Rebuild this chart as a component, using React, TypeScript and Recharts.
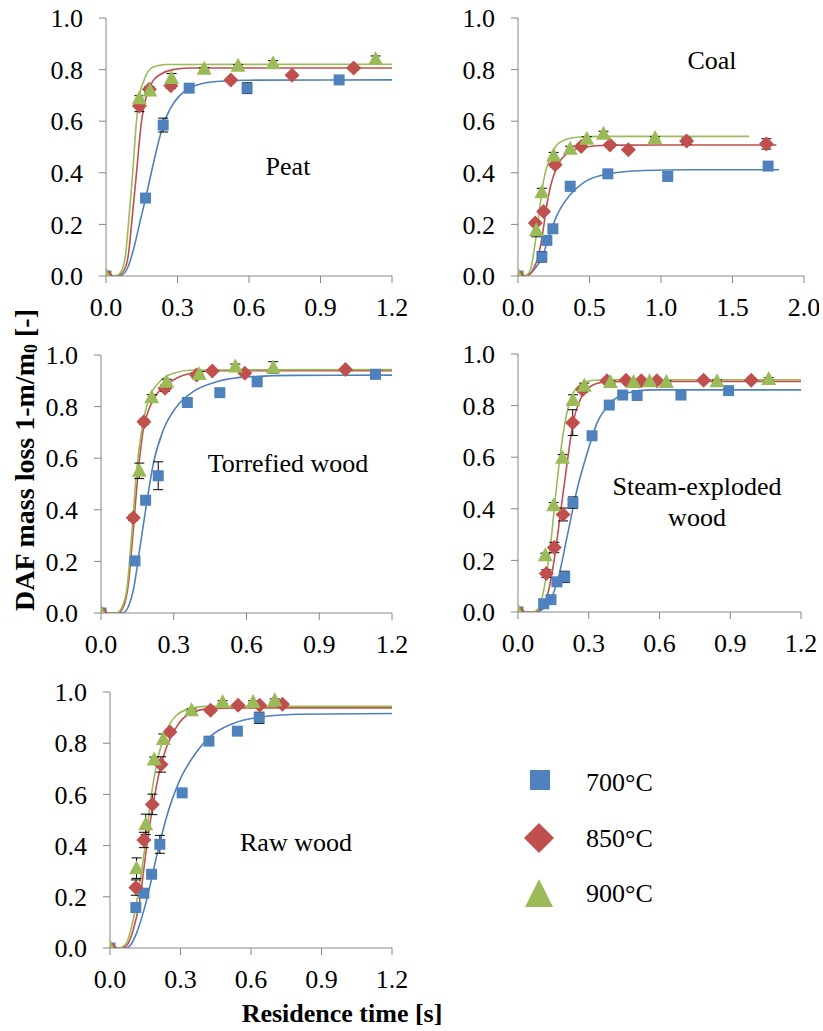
import React from "react";
import { ComposedChart, Line, Scatter, XAxis, YAxis, ErrorBar } from "recharts";

// tick values
const xTicks12 = [0, 0.3, 0.6, 0.9, 1.2];
const xTicks20 = [0, 0.5, 1.0, 1.5, 2.0];
const yTicks = [0, 0.2, 0.4, 0.6, 0.8, 1.0];

const temps = ["700°C", "850°C", "900°C"];

// measured points: [time, mass loss, error]
const peat700 = [[0, 0, 0], [0.166, 0.302, 0.01], [0.24, 0.585, 0.027], [0.349, 0.728, 0.01], [0.592, 0.728, 0.021], [0.978, 0.76, 0.005]];
const peat850 = [[0, 0, 0], [0.14, 0.659, 0.022], [0.182, 0.724, 0.01], [0.272, 0.737, 0.01], [0.524, 0.76, 0.005], [0.781, 0.778, 0.008], [1.039, 0.806, 0.008]];
const peat900 = [[0, 0, 0], [0.14, 0.689, 0.01], [0.184, 0.719, 0.01], [0.275, 0.767, 0.018], [0.412, 0.803, 0.005], [0.554, 0.815, 0.005], [0.701, 0.825, 0.01], [1.131, 0.841, 0.012]];

const coal700 = [[0, 0, 0], [0.167, 0.074, 0.02], [0.202, 0.138, 0.012], [0.244, 0.183, 0.008], [0.365, 0.348, 0.018], [0.628, 0.396, 0.008], [1.047, 0.386, 0.016], [1.749, 0.426, 0.012]];
const coal850 = [[0, 0, 0], [0.121, 0.205, 0.008], [0.179, 0.25, 0.008], [0.26, 0.431, 0.008], [0.442, 0.502, 0.008], [0.644, 0.508, 0.008], [0.772, 0.489, 0.005], [1.179, 0.523, 0.012], [1.737, 0.512, 0.02]];
const coal900 = [[0, 0, 0], [0.128, 0.177, 0.025], [0.167, 0.325, 0.015], [0.249, 0.467, 0.012], [0.365, 0.493, 0.01], [0.481, 0.532, 0.008], [0.598, 0.551, 0.01], [0.958, 0.535, 0.005]];

const torr700 = [[0, 0, 0], [0.14, 0.202, 0.008], [0.184, 0.437, 0.008], [0.236, 0.532, 0.054], [0.356, 0.816, 0.006], [0.49, 0.854, 0.008], [0.644, 0.896, 0.006], [1.132, 0.925, 0.006]];
const torr850 = [[0, 0, 0], [0.133, 0.369, 0.01], [0.177, 0.741, 0.01], [0.264, 0.871, 0.012], [0.394, 0.922, 0.01], [0.459, 0.938, 0.005], [0.593, 0.929, 0.005], [1.008, 0.944, 0.005]];
const torr900 = [[0, 0, 0], [0.158, 0.551, 0.03], [0.209, 0.836, 0.01], [0.271, 0.896, 0.01], [0.405, 0.926, 0.01], [0.554, 0.955, 0.01], [0.71, 0.952, 0.022]];

const steam700 = [[0, 0, 0], [0.109, 0.032, 0.008], [0.14, 0.048, 0.008], [0.165, 0.117, 0.01], [0.198, 0.136, 0.022], [0.233, 0.424, 0.022], [0.314, 0.683, 0.008], [0.387, 0.802, 0.008], [0.444, 0.841, 0.008], [0.505, 0.839, 0.008], [0.691, 0.841, 0.008], [0.893, 0.858, 0.008]];
const steam850 = [[0, 0, 0], [0.12, 0.149, 0.015], [0.154, 0.25, 0.02], [0.191, 0.378, 0.025], [0.232, 0.734, 0.05], [0.274, 0.861, 0.01], [0.377, 0.896, 0.005], [0.458, 0.898, 0.005], [0.523, 0.896, 0.005], [0.589, 0.896, 0.005], [0.787, 0.898, 0.005], [0.989, 0.898, 0.005]];
const steam900 = [[0, 0, 0], [0.116, 0.22, 0.008], [0.151, 0.414, 0.01], [0.189, 0.598, 0.012], [0.233, 0.822, 0.02], [0.281, 0.877, 0.01], [0.392, 0.891, 0.005], [0.49, 0.891, 0.005], [0.558, 0.894, 0.005], [0.629, 0.891, 0.005], [0.844, 0.894, 0.005], [1.063, 0.903, 0.005]];

const raw700 = [[0, 0, 0], [0.11, 0.158, 0.008], [0.144, 0.214, 0.008], [0.177, 0.288, 0.01], [0.212, 0.405, 0.035], [0.307, 0.606, 0.008], [0.421, 0.808, 0.008], [0.542, 0.847, 0.008], [0.635, 0.899, 0.022]];
const raw850 = [[0, 0, 0], [0.11, 0.236, 0.03], [0.144, 0.422, 0.03], [0.18, 0.561, 0.04], [0.217, 0.717, 0.03], [0.255, 0.844, 0.01], [0.428, 0.929, 0.008], [0.545, 0.948, 0.005], [0.637, 0.948, 0.005], [0.734, 0.952, 0.005]];
const raw900 = [[0, 0, 0], [0.113, 0.312, 0.04], [0.152, 0.483, 0.04], [0.188, 0.736, 0.01], [0.227, 0.816, 0.02], [0.347, 0.929, 0.005], [0.479, 0.961, 0.005], [0.609, 0.961, 0.005], [0.701, 0.968, 0.005]];

// fitted model curves: [time, mass loss]
const peatFit700 = [[0, 0], [0.06, 0.002], [0.09, 0.03], [0.12, 0.12], [0.145, 0.22], [0.166, 0.3], [0.19, 0.4], [0.215, 0.5], [0.24, 0.585], [0.27, 0.65], [0.31, 0.7], [0.35, 0.728], [0.4, 0.745], [0.48, 0.755], [0.6, 0.759], [1.2, 0.76]];
const peatFit850 = [[0, 0], [0.05, 0.002], [0.08, 0.03], [0.095, 0.09], [0.107, 0.2], [0.128, 0.4], [0.149, 0.6], [0.17, 0.7], [0.2, 0.76], [0.226, 0.78], [0.28, 0.8], [0.35, 0.806], [1.2, 0.806]];
const peatFit900 = [[0, 0], [0.045, 0.002], [0.07, 0.03], [0.083, 0.09], [0.094, 0.2], [0.112, 0.4], [0.128, 0.6], [0.145, 0.72], [0.156, 0.75], [0.175, 0.79], [0.198, 0.81], [0.25, 0.82], [1.2, 0.821]];

const coalFit700 = [[0, 0], [0.05, 0.001], [0.086, 0.009], [0.12, 0.03], [0.167, 0.07], [0.214, 0.15], [0.272, 0.235], [0.365, 0.315], [0.458, 0.362], [0.628, 0.396], [0.877, 0.409], [1.2, 0.412], [1.826, 0.412]];
const coalFit850 = [[0, 0], [0.063, 0.001], [0.1, 0.02], [0.133, 0.061], [0.155, 0.11], [0.179, 0.19], [0.2, 0.27], [0.226, 0.345], [0.272, 0.422], [0.342, 0.474], [0.458, 0.499], [0.644, 0.507], [1.0, 0.508], [1.807, 0.508]];
const coalFit900 = [[0, 0], [0.051, 0.001], [0.09, 0.03], [0.109, 0.086], [0.144, 0.228], [0.179, 0.37], [0.226, 0.461], [0.295, 0.519], [0.412, 0.538], [0.6, 0.541], [1.616, 0.541]];

const torrFit700 = [[0, 0], [0.092, 0.001], [0.115, 0.03], [0.133, 0.088], [0.161, 0.256], [0.188, 0.424], [0.216, 0.58], [0.257, 0.709], [0.312, 0.8], [0.38, 0.858], [0.477, 0.896], [0.614, 0.916], [0.8, 0.921], [1.2, 0.922]];
const torrFit850 = [[0, 0], [0.071, 0.001], [0.095, 0.03], [0.113, 0.114], [0.133, 0.321], [0.154, 0.554], [0.174, 0.709], [0.202, 0.8], [0.243, 0.864], [0.298, 0.903], [0.38, 0.931], [0.477, 0.939], [1.2, 0.939]];
const torrFit900 = [[0, 0], [0.065, 0.001], [0.09, 0.03], [0.106, 0.088], [0.126, 0.295], [0.147, 0.554], [0.168, 0.709], [0.195, 0.825], [0.236, 0.89], [0.298, 0.929], [0.38, 0.942], [1.2, 0.944]];

const steamFit700 = [[0, 0], [0.081, 0.001], [0.11, 0.015], [0.137, 0.045], [0.172, 0.136], [0.208, 0.291], [0.25, 0.473], [0.293, 0.615], [0.335, 0.732], [0.392, 0.81], [0.462, 0.849], [0.561, 0.861], [1.2, 0.861]];
const steamFit850 = [[0, 0], [0.073, 0.001], [0.1, 0.015], [0.123, 0.058], [0.151, 0.188], [0.18, 0.382], [0.208, 0.576], [0.236, 0.745], [0.264, 0.823], [0.307, 0.874], [0.363, 0.891], [0.45, 0.894], [1.2, 0.894]];
const steamFit900 = [[0, 0], [0.066, 0.001], [0.09, 0.02], [0.109, 0.084], [0.137, 0.253], [0.165, 0.499], [0.194, 0.706], [0.222, 0.823], [0.264, 0.881], [0.321, 0.898], [0.4, 0.9], [1.2, 0.9]];

const rawFit700 = [[0, 0], [0.071, 0.001], [0.09, 0.015], [0.113, 0.058], [0.156, 0.188], [0.198, 0.357], [0.241, 0.513], [0.297, 0.656], [0.354, 0.747], [0.425, 0.825], [0.524, 0.877], [0.666, 0.905], [0.807, 0.913], [1.2, 0.916]];
const rawFit850 = [[0, 0], [0.05, 0.001], [0.075, 0.015], [0.099, 0.071], [0.127, 0.188], [0.156, 0.396], [0.184, 0.565], [0.212, 0.695], [0.241, 0.786], [0.283, 0.864], [0.34, 0.916], [0.425, 0.935], [0.55, 0.938], [1.2, 0.938]];
const rawFit900 = [[0, 0], [0.042, 0.001], [0.07, 0.02], [0.092, 0.084], [0.12, 0.214], [0.149, 0.396], [0.177, 0.604], [0.205, 0.747], [0.241, 0.851], [0.283, 0.909], [0.34, 0.935], [0.411, 0.944], [1.2, 0.944]];

const BLUE = "#4F81BD";
const RED = "#C0504D";
const GREEN = "#9BBB59";
const AXIS = "#868686";
const FONT = "Liberation Serif";

const toPts = (arr: number[][]) => arr.map(([x, y, e]) => ({ x, y, e }));
const toFit = (arr: number[][]) => arr.map(([x, y]) => ({ x, y }));
const fmt = (v: number) => v.toFixed(1);

const squareShape = (p: any) => <rect x={p.cx - 5.5} y={p.cy - 5.5} width={11} height={11} fill={BLUE} />;
const diamondShape = (p: any) => (
  <polygon points={`${p.cx},${p.cy - 7.5} ${p.cx + 7.5},${p.cy} ${p.cx},${p.cy + 7.5} ${p.cx - 7.5},${p.cy}`} fill={RED} />
);
const triangleShape = (p: any) => (
  <polygon points={`${p.cx},${p.cy - 8} ${p.cx + 7.5},${p.cy + 6} ${p.cx - 7.5},${p.cy + 6}`} fill={GREEN} />
);

type PanelProps = {
  left: number;
  top: number;
  plotW: number;
  plotH: number;
  xMax: number;
  xTicks: number[];
  pts: number[][][];
  fits: number[][][];
};

const colors = [BLUE, RED, GREEN];
const shapes = [squareShape, diamondShape, triangleShape];

const Panel = ({ left, top, plotW, plotH, xMax, xTicks, pts, fits }: PanelProps) => {
  const yW = 60;
  const mTop = 15;
  const xH = 50;
  return (
    <div style={{ position: "absolute", left: left - yW, top: top - mTop }}>
      <ComposedChart
        width={yW + plotW + 15}
        height={mTop + plotH + xH}
        margin={{ top: mTop, right: 15, bottom: 0, left: 0 }}
        style={{ overflow: "visible", fontFamily: FONT }}
      >
        <XAxis
          type="number"
          dataKey="x"
          domain={[0, xMax]}
          ticks={xTicks}
          interval={0}
          tickFormatter={fmt}
          height={xH}
          stroke={AXIS}
          tickSize={7}
          tickMargin={15}
          tick={{ fill: "#000", fontSize: 26, fontFamily: FONT }}
          allowDataOverflow
        />
        <YAxis
          type="number"
          dataKey="y"
          domain={[0, 1]}
          ticks={yTicks}
          interval={0}
          tickFormatter={fmt}
          width={yW}
          stroke={AXIS}
          tickSize={7}
          tickMargin={16}
          tick={{ fill: "#000", fontSize: 26, fontFamily: FONT }}
          allowDataOverflow
        />
        {fits.map((f, i) => (
          <Line
            key={"f" + i}
            data={toFit(f)}
            dataKey="y"
            type="monotone"
            stroke={colors[i]}
            strokeWidth={1.6}
            dot={false}
            activeDot={false}
            isAnimationActive={false}
          />
        ))}
        {pts.map((p, i) => (
          <Scatter key={"p" + i} data={toPts(p)} dataKey="y" shape={shapes[i]} isAnimationActive={false}>
            <ErrorBar dataKey="e" direction="y" width={5} stroke="#000" strokeWidth={1} />
          </Scatter>
        ))}
      </ComposedChart>
    </div>
  );
};

export default function App() {
  return (
    <div style={{ position: "absolute", left: 0, top: 0, width: 823, height: 1031, background: "#fff", fontFamily: FONT }}>
      <Panel left={106} top={18} plotW={286} plotH={258} xMax={1.2} xTicks={xTicks12} pts={[peat700, peat850, peat900]} fits={[peatFit700, peatFit850, peatFit900]} />
      <Panel left={518} top={18} plotW={286} plotH={258} xMax={2} xTicks={xTicks20} pts={[coal700, coal850, coal900]} fits={[coalFit700, coalFit850, coalFit900]} />
      <Panel left={101} top={355} plotW={291} plotH={258} xMax={1.2} xTicks={xTicks12} pts={[torr700, torr850, torr900]} fits={[torrFit700, torrFit850, torrFit900]} />
      <Panel left={518} top={354} plotW={283} plotH={258} xMax={1.2} xTicks={xTicks12} pts={[steam700, steam850, steam900]} fits={[steamFit700, steamFit850, steamFit900]} />
      <Panel left={110} top={692} plotW={282} plotH={256} xMax={1.2} xTicks={xTicks12} pts={[raw700, raw850, raw900]} fits={[rawFit700, rawFit850, rawFit900]} />

      <svg width={823} height={1031} fontFamily={FONT} style={{ position: "absolute", left: 0, top: 0, pointerEvents: "none" }}>
        <g fill="#000" fontSize={26} fontFamily={FONT} textAnchor="middle" dominantBaseline="central">
          <text x={288} y={166}>Peat</text>
          <text x={712} y={60}>Coal</text>
          <text x={288} y={463}>Torrefied wood</text>
          <text x={697} y={486}>Steam-exploded</text>
          <text x={697} y={517}>wood</text>
          <text x={296} y={842}>Raw wood</text>
        </g>
        <text
          x={24}
          y={460}
          transform="rotate(-90, 24, 460)"
          textAnchor="middle"
          dominantBaseline="central"
          fontSize={28}
          fontWeight="bold"
          fontFamily={FONT}
          fill="#000"
        >
          DAF mass loss 1-m/m<tspan fontSize={18} dy={7}>0</tspan>
          <tspan dy={-7}> [-]</tspan>
        </text>
        <text x={342} y={1013} textAnchor="middle" dominantBaseline="central" fontSize={26} fontWeight="bold" fontFamily={FONT} fill="#000">
          Residence time [s]
        </text>
        {/* legend */}
        <rect x={530} y={770} width={20} height={20} fill={BLUE} />
        <polygon points="539,823 554,838 539,853 524,838" fill={RED} />
        <polygon points="539,879 553,907 525,907" fill={GREEN} />
        <g fill="#000" fontSize={26} fontFamily={FONT} dominantBaseline="central">
          <text x={586} y={782}>{temps[0]}</text>
          <text x={586} y={838}>{temps[1]}</text>
          <text x={586} y={893}>{temps[2]}</text>
        </g>
      </svg>
    </div>
  );
}
